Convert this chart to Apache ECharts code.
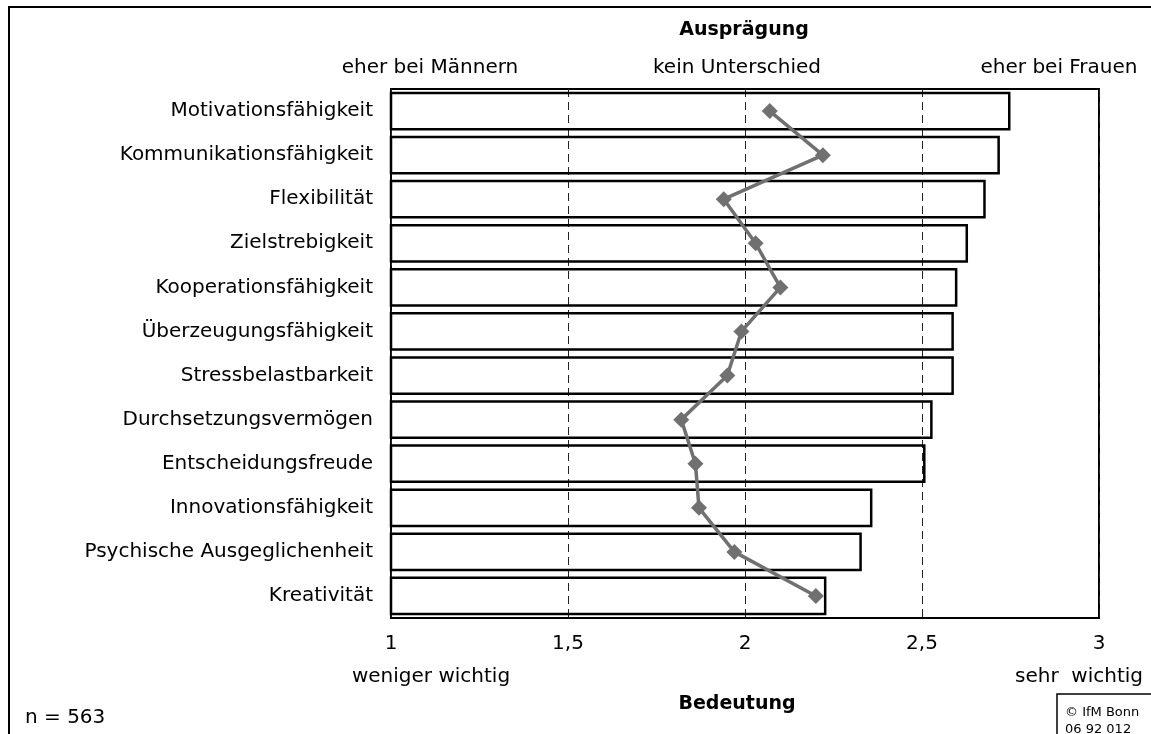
<!DOCTYPE html>
<html>
<head>
<meta charset="utf-8">
<script src="https://cdn.jsdelivr.net/npm/echarts@6/dist/echarts.min.js"></script>
<style>
  html, body { margin: 0; padding: 0; background: #fff; }
  #chart { width: 1151px; height: 734px; }
</style>
</head>
<body>
<div id="chart"></div>
<script>
// Eigenschaften (von oben nach unten)
var categories = [
  'Motivationsfähigkeit', 'Kommunikationsfähigkeit', 'Flexibilität', 'Zielstrebigkeit',
  'Kooperationsfähigkeit', 'Überzeugungsfähigkeit', 'Stressbelastbarkeit', 'Durchsetzungsvermögen',
  'Entscheidungsfreude', 'Innovationsfähigkeit', 'Psychische Ausgeglichenheit', 'Kreativität'
];
// Bedeutung (Balken)
var bedeutung = [2.75, 2.72, 2.68, 2.63, 2.60, 2.59, 2.59, 2.53, 2.51, 2.36, 2.33, 2.23];
// Ausprägung (Linie)
var auspraegung = [2.07, 2.22, 1.94, 2.03, 2.10, 1.99, 1.95, 1.82, 1.86, 1.87, 1.97, 2.20];
// Achsenbeschriftung
var tickLabels = { 1: '1', 1.5: '1,5', 2: '2', 2.5: '2,5', 3: '3' };

var FONT = 'DejaVu Sans';
var myChart = echarts.init(document.getElementById('chart'));

myChart.setOption({
  backgroundColor: '#ffffff',
  animation: false,
  textStyle: { fontFamily: FONT },
  grid: {
    left: 391, right: 52, top: 89, bottom: 116,
    show: true,
    borderColor: '#000',
    borderWidth: 2,
    backgroundColor: 'transparent'
  },
  xAxis: {
    type: 'value',
    min: 1,
    max: 3,
    interval: 0.5,
    axisLine: { show: false },
    axisTick: { show: false },
    axisLabel: {
      margin: 16,
      fontSize: 20,
      color: '#000',
      fontFamily: FONT,
      formatter: function(v) { return tickLabels[v] || ''; }
    },
    splitLine: {
      show: true,
      lineStyle: { color: '#222', width: 1, type: [8, 5] }
    }
  },
  yAxis: {
    type: 'category',
    inverse: true,
    data: categories,
    axisLine: { show: false },
    axisTick: { show: false },
    axisLabel: { margin: 18, fontSize: 20, color: '#000', fontFamily: FONT },
    splitLine: { show: false }
  },
  series: [
    {
      name: 'Bedeutung',
      type: 'bar',
      data: bedeutung,
      barCategoryGap: '12%',
      // Balken ohne Füllung, damit die Hilfslinien durchscheinen
      itemStyle: { color: 'rgba(255,255,255,0)', borderColor: '#000', borderWidth: 2.5 },
      z: 2
    },
    {
      name: 'Ausprägung',
      type: 'line',
      data: auspraegung,
      symbol: 'diamond',
      symbolSize: 16,
      itemStyle: { color: '#707070' },
      lineStyle: { color: '#707070', width: 3.5 },
      z: 5
    }
  ],
  graphic: [
    // äußerer Rahmen
    { type: 'rect', shape: { x: 9, y: 7, width: 1200, height: 800 }, style: { fill: 'none', stroke: '#000', lineWidth: 2 }, silent: true },
    { type: 'text', style: { text: 'Ausprägung', x: 744, y: 30, align: 'center', verticalAlign: 'middle', font: 'bold 19px "DejaVu Sans"', fill: '#000' } },
    { type: 'text', style: { text: 'eher bei Männern', x: 430, y: 68, align: 'center', verticalAlign: 'middle', font: '20px "DejaVu Sans"', fill: '#000' } },
    { type: 'text', style: { text: 'kein Unterschied', x: 737, y: 68, align: 'center', verticalAlign: 'middle', font: '20px "DejaVu Sans"', fill: '#000' } },
    { type: 'text', style: { text: 'eher bei Frauen', x: 1059, y: 68, align: 'center', verticalAlign: 'middle', font: '20px "DejaVu Sans"', fill: '#000' } },
    { type: 'text', style: { text: 'weniger wichtig', x: 431, y: 677, align: 'center', verticalAlign: 'middle', font: '20px "DejaVu Sans"', fill: '#000' } },
    { type: 'text', style: { text: 'sehr  wichtig', x: 1079, y: 677, align: 'center', verticalAlign: 'middle', font: '20px "DejaVu Sans"', fill: '#000' } },
    { type: 'text', style: { text: 'Bedeutung', x: 737, y: 704, align: 'center', verticalAlign: 'middle', font: 'bold 19px "DejaVu Sans"', fill: '#000' } },
    { type: 'text', style: { text: 'n = 563', x: 25, y: 718, align: 'left', verticalAlign: 'middle', font: '20px "DejaVu Sans"', fill: '#000' } },
    // Copyright-Kasten
    { type: 'rect', shape: { x: 1057, y: 694, width: 120, height: 60 }, style: { fill: '#fff', stroke: '#000', lineWidth: 1.5 }, silent: true },
    { type: 'text', style: { text: '© IfM Bonn', x: 1065, y: 713, align: 'left', verticalAlign: 'middle', font: '13px "DejaVu Sans"', fill: '#000' } },
    { type: 'text', style: { text: '06 92 012', x: 1065, y: 730, align: 'left', verticalAlign: 'middle', font: '13px "DejaVu Sans"', fill: '#000' } }
  ]
});
</script>
</body>
</html>
